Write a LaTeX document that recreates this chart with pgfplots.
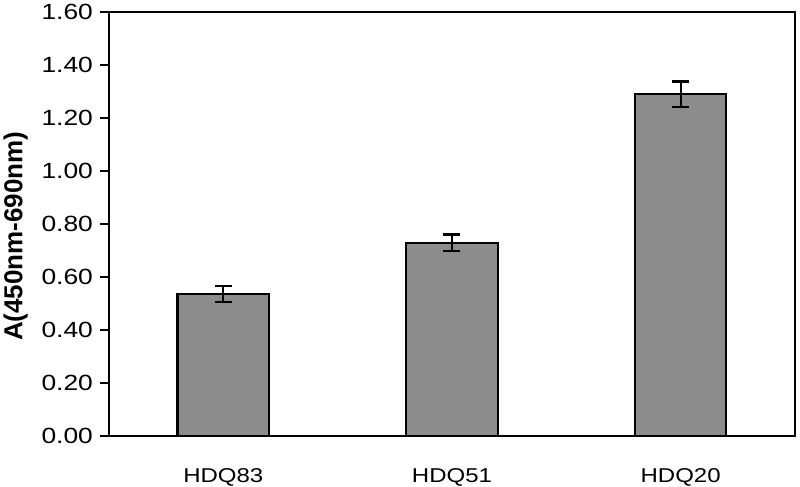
\documentclass[border=0pt]{standalone}
\usepackage{fontspec}
\setmainfont{Liberation Sans}
\newfontfamily\widefont[FakeStretch=1.2]{Liberation Sans}
\usepackage{pgfplots}
\pgfplotsset{compat=1.18}
\definecolor{barfill}{RGB}{140,140,140}
\begin{document}
\begin{tikzpicture}
\useasboundingbox (-54.5pt,-25.5pt) rectangle (345.5pt,218pt);
\begin{axis}[
  at={(0,0)}, anchor=south west,
  scale only axis,
  width=343pt, height=212pt,
  xmin=-0.5, xmax=2.5,
  ymin=0, ymax=1.6,
  ytick={0,0.2,...,1.6},
  xtick={0,1,2},
  xticklabels={HDQ83,HDQ51,HDQ20},
  major x tick style={draw=none},
  tick align=outside,
  ytick pos=left,
  major tick length=4.5pt,
  y tick style={black, line width=0.6pt},
  axis line style={line width=1.1pt},
  ylabel={\bfseries A(450nm-690nm)},
  ylabel style={font=\fontsize{13}{15}\selectfont, at={(ticklabel cs:0.476)}, xshift=-1pt},
  yticklabel style={font=\widefont\fontsize{11}{12}\selectfont},
  xticklabel style={font=\widefont\fontsize{10}{12}\selectfont, yshift=-8pt},
  /pgf/number format/assume math mode=true,
  yticklabel={\pgfmathprintnumber[fixed,fixed zerofill,precision=2]{\tick}},
  ybar, bar width=0.40,
]
\addplot[fill=barfill, draw=black, line width=1.1pt,
  error bars/.cd, y dir=both, y explicit,
  error bar style={line width=1.1pt, black},
  error mark options={rotate=90, mark size=4.25pt, line width=1.1pt, black}]
  coordinates {
  (0,0.536) +- (0,0.031)
  (1,0.729) +- (0,0.031)
  (2,1.290) +- (0,0.048)
  };
\end{axis}
\end{tikzpicture}
\end{document}
